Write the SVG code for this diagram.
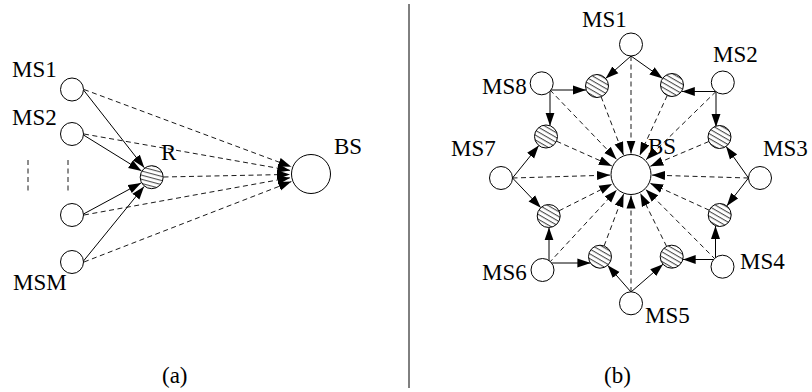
<svg xmlns="http://www.w3.org/2000/svg" width="812" height="392" viewBox="0 0 812 392">
<style>
.lbl{font-family:"Liberation Serif","Times New Roman",serif;font-size:23px;fill:#000}
.ms{fill:#fff;stroke:#000;stroke-width:1}
.bs{fill:#fff;stroke:#000;stroke-width:1}
.rl{fill:url(#hatch);stroke:#000;stroke-width:1}
.ra{fill:url(#hatchA);stroke:#000;stroke-width:1}
.solid{stroke:#000;stroke-width:1;fill:none;marker-end:url(#ah)}
.dash{stroke:#000;stroke-width:0.9;fill:none;stroke-dasharray:5 3.5;marker-end:url(#ah)}
.plain{stroke:#000;stroke-width:0.9;fill:none;stroke-dasharray:5 3.5}
</style>
<defs>
<marker id="ah" markerUnits="userSpaceOnUse" markerWidth="13" markerHeight="10" refX="13" refY="5" orient="auto">
<path d="M0,0.5 L13,5 L0,9.5 z" fill="#000"/>
</marker>
<pattern id="hatch" patternUnits="userSpaceOnUse" width="4.2" height="4.2" patternTransform="rotate(30)">
<rect width="4.2" height="4.2" fill="#fff"/>
<line x1="0" y1="0.6" x2="4.2" y2="0.6" stroke="#000" stroke-width="0.75"/>
</pattern>
<pattern id="hatchA" patternUnits="userSpaceOnUse" width="4" height="4" patternTransform="rotate(15)">
<rect width="4" height="4" fill="#fff"/>
<line x1="0" y1="0.6" x2="4" y2="0.6" stroke="#000" stroke-width="0.75"/>
</pattern>
</defs>
<rect width="812" height="392" fill="#fff"/>

<line x1="409" y1="4" x2="409" y2="388" stroke="#000" stroke-width="1"/>

<g id="connectors-a">
<line class="solid" x1="83.5" y1="90" x2="144.3" y2="167.7"/>
<line class="solid" x1="83.5" y1="135" x2="141.5" y2="170.9"/>
<line class="solid" x1="83.5" y1="214" x2="141.1" y2="182.9"/>
<line class="solid" x1="83.5" y1="261" x2="144.1" y2="186.5"/>
<line class="dash" x1="84" y1="89.5" x2="291.3" y2="166.7"/>
<line class="dash" x1="84" y1="134" x2="290.3" y2="170.4"/>
<line class="dash" x1="84" y1="215" x2="290.3" y2="177.7"/>
<line class="dash" x1="84" y1="262" x2="291.4" y2="181.6"/>
<line class="dash" x1="163.5" y1="177" x2="290" y2="174.4"/>
<line class="plain" x1="28" y1="160" x2="28" y2="192"/>
<line class="plain" x1="68" y1="160" x2="68" y2="192"/>
</g>

<g id="a-MS1"><circle class="ms" cx="72" cy="89.5" r="11.5"/><text class="lbl" x="12" y="76.5">MS1</text></g>
<g id="a-MS2"><circle class="ms" cx="72" cy="134" r="11.5"/><text class="lbl" x="12" y="125">MS2</text></g>
<g id="a-MS3"><circle class="ms" cx="72" cy="215" r="11.5"/></g>
<g id="a-MSM"><circle class="ms" cx="72" cy="262" r="11.5"/><text class="lbl" x="13" y="290">MSM</text></g>
<g id="a-R"><circle class="ra" cx="151.7" cy="177.2" r="11.5"/><text class="lbl" x="161" y="160">R</text></g>
<g id="a-BS"><circle class="bs" cx="311" cy="174" r="19.5"/><text class="lbl" x="334" y="154">BS</text></g>
<text class="lbl" x="162" y="383">(a)</text>

<g id="connectors-b">
<line class="solid" x1="631" y1="56" x2="605.6" y2="78.4"/>
<line class="solid" x1="631" y1="56" x2="662.6" y2="78.4"/>
<line class="solid" x1="550" y1="90" x2="586" y2="90"/>
<line class="solid" x1="550" y1="90" x2="550" y2="125.7"/>
<line class="solid" x1="716" y1="91.5" x2="681.8" y2="91.5"/>
<line class="solid" x1="716" y1="91.5" x2="716" y2="126.9"/>
<line class="solid" x1="512.5" y1="178" x2="538.8" y2="145.5"/>
<line class="solid" x1="512.5" y1="178" x2="540.8" y2="207.7"/>
<line class="solid" x1="748.5" y1="178" x2="726.1" y2="146.4"/>
<line class="solid" x1="748.5" y1="178" x2="726.8" y2="205.9"/>
<line class="solid" x1="549" y1="263" x2="549" y2="227.4"/>
<line class="solid" x1="549" y1="263" x2="590.4" y2="263"/>
<line class="solid" x1="715.5" y1="259.5" x2="715.5" y2="225.9"/>
<line class="solid" x1="715.5" y1="259.5" x2="682.7" y2="259.5"/>
<line class="solid" x1="631" y1="292" x2="607.6" y2="265.3"/>
<line class="solid" x1="631" y1="292" x2="663" y2="264.2"/>

<line class="dash" x1="631" y1="56" x2="631" y2="153.5"/>
<line class="dash" x1="716" y1="91.5" x2="646" y2="159.8"/>
<line class="dash" x1="748.5" y1="178" x2="652" y2="175.1"/>
<line class="dash" x1="715.5" y1="259.5" x2="645.8" y2="189.4"/>
<line class="dash" x1="631" y1="292" x2="631" y2="195.5"/>
<line class="dash" x1="549" y1="263" x2="616.7" y2="189.9"/>
<line class="dash" x1="512.5" y1="178" x2="610" y2="175.1"/>
<line class="dash" x1="550" y1="90" x2="616.5" y2="159.3"/>

<line class="dash" x1="601.1" y1="96.7" x2="623.5" y2="154.9"/>
<line class="dash" x1="667.2" y1="95.5" x2="639.7" y2="155.4"/>
<line class="dash" x1="556.5" y1="141.2" x2="611.8" y2="165.9"/>
<line class="dash" x1="708.9" y1="141.5" x2="650.3" y2="166.3"/>
<line class="dash" x1="559" y1="210.8" x2="612.2" y2="184"/>
<line class="dash" x1="709.2" y1="210.2" x2="650.1" y2="183.2"/>
<line class="dash" x1="604.1" y1="245.9" x2="623.6" y2="194.1"/>
<line class="dash" x1="666.6" y1="246.4" x2="640.3" y2="193.3"/>
</g>

<g id="b-BS"><circle class="bs" cx="631" cy="174.5" r="20"/><text class="lbl" x="648" y="153.5">BS</text></g>
<g id="b-MS1"><circle class="ms" cx="631" cy="44.5" r="11.5"/><text class="lbl" x="582" y="27">MS1</text></g>
<g id="b-MS2"><circle class="ms" cx="722.8" cy="82.5" r="11.5"/><text class="lbl" x="713" y="61.5">MS2</text></g>
<g id="b-MS3"><circle class="ms" cx="760" cy="178" r="11.5"/><text class="lbl" x="763" y="156">MS3</text></g>
<g id="b-MS4"><circle class="ms" cx="722.5" cy="266.7" r="11.5"/><text class="lbl" x="740" y="268.5">MS4</text></g>
<g id="b-MS5"><circle class="ms" cx="631" cy="303.3" r="11.5"/><text class="lbl" x="645" y="322.7">MS5</text></g>
<g id="b-MS6"><circle class="ms" cx="542.5" cy="270" r="11.5"/><text class="lbl" x="482" y="280">MS6</text></g>
<g id="b-MS7"><circle class="ms" cx="501" cy="178" r="11.5"/><text class="lbl" x="451" y="156">MS7</text></g>
<g id="b-MS8"><circle class="ms" cx="541.7" cy="83.3" r="11.5"/><text class="lbl" x="482" y="94">MS8</text></g>
<g id="b-R1"><circle class="rl" cx="597" cy="86" r="11.5"/></g>
<g id="b-R2"><circle class="rl" cx="672" cy="85" r="11.5"/></g>
<g id="b-R3"><circle class="rl" cx="546" cy="136.5" r="11.5"/></g>
<g id="b-R4"><circle class="rl" cx="719.5" cy="137" r="11.5"/></g>
<g id="b-R5"><circle class="rl" cx="548.7" cy="216" r="11.5"/></g>
<g id="b-R6"><circle class="rl" cx="719.7" cy="215" r="11.5"/></g>
<g id="b-R7"><circle class="rl" cx="600" cy="256.7" r="11.5"/></g>
<g id="b-R8"><circle class="rl" cx="671.7" cy="256.7" r="11.5"/></g>
<text class="lbl" x="604" y="383">(b)</text>
</svg>
